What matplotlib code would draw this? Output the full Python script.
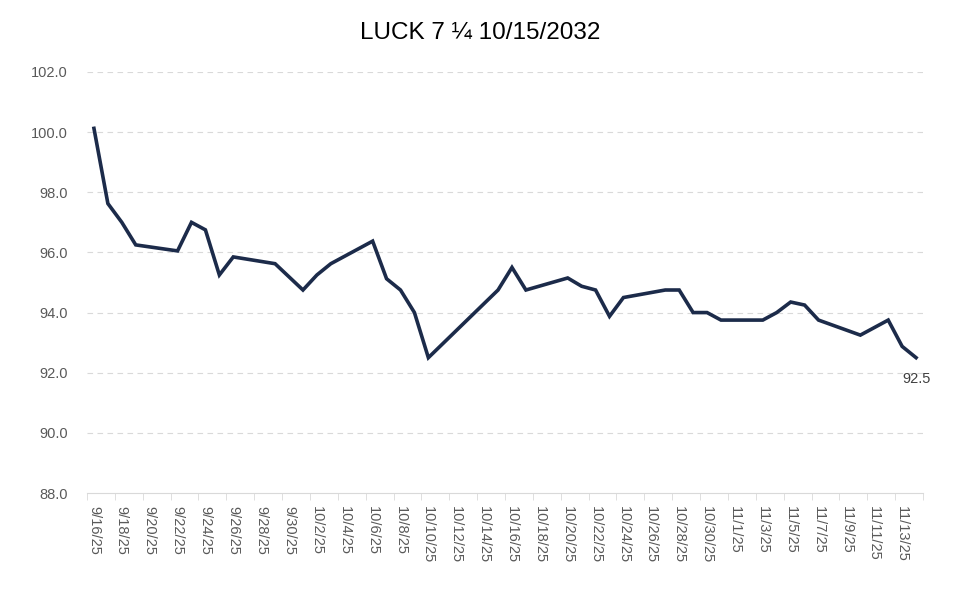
import pandas as pd
import matplotlib.pyplot as plt

plt.rcParams["font.family"] = ["Liberation Sans", "DejaVu Sans"]

# trading days and prices
dates = ["2025-09-16", "2025-09-17", "2025-09-18", "2025-09-19", "2025-09-22",
         "2025-09-23", "2025-09-24", "2025-09-25", "2025-09-26", "2025-09-29",
         "2025-10-01", "2025-10-02", "2025-10-03", "2025-10-06", "2025-10-07",
         "2025-10-08", "2025-10-09", "2025-10-10", "2025-10-14", "2025-10-15",
         "2025-10-16", "2025-10-17", "2025-10-20", "2025-10-21", "2025-10-22",
         "2025-10-23", "2025-10-24", "2025-10-27", "2025-10-28", "2025-10-29",
         "2025-10-30", "2025-10-31", "2025-11-03", "2025-11-04", "2025-11-05",
         "2025-11-06", "2025-11-07", "2025-11-10", "2025-11-12", "2025-11-13",
         "2025-11-14"]
prices = [100.125, 97.625, 97.0, 96.25, 96.05,
          97.0, 96.75, 95.25, 95.85, 95.625,
          94.75, 95.25, 95.625, 96.375, 95.125,
          94.75, 94.0, 92.5, 94.3, 94.75,
          95.5, 94.75, 95.15, 94.875, 94.75,
          93.875, 94.5, 94.75, 94.75, 94.0,
          94.0, 93.75, 93.75, 94.0, 94.35,
          94.25, 93.75, 93.25, 93.75, 92.875,
          92.5]
y_ticks = [88, 90, 92, 94, 96, 98, 100, 102]

start = pd.Timestamp("2025-09-16")
end = pd.Timestamp("2025-11-15")
dt = pd.to_datetime(dates)
x = (dt - start).days + 0.5

label_days = pd.date_range(start, "2025-11-13", freq="2D")
label_pos = (label_days - start).days + 0.5
labels = [f"{d.month}/{d.day}/{d.strftime('%y')}" for d in label_days]
n_days = (end - start).days

fig = plt.figure(figsize=(9.6, 5.9), dpi=100)
ax = fig.add_axes([0.0906, 0.1644, 0.8709, 0.7136])

ax.plot(x, prices, color="#1c2b4a", linewidth=2.6, solid_joinstyle="miter")
ax.annotate(f"{prices[-1]:.1f}", (x[-1], prices[-1]), xytext=(0, -10),
            textcoords="offset points", ha="center", va="top",
            fontsize=10.5, color="#404040")

ax.set_xlim(0, n_days)
ax.set_ylim(88, 102)
ax.set_yticks(y_ticks)
ax.set_yticklabels([f"{v:.1f}" for v in y_ticks], fontsize=10.5, color="#595959")
ax.set_xticks(label_pos)
ax.set_xticklabels(labels, rotation=270, fontsize=10.5, color="#595959")
ax.set_xticks(range(0, n_days + 1, 2), minor=True)
ax.tick_params(axis="x", which="major", length=0, pad=9)
ax.tick_params(axis="x", which="minor", length=5, color="#d9d9d9")
ax.tick_params(axis="y", length=0, pad=14)

for v in y_ticks[1:]:
    ax.axhline(v, color="#d9d9d9", linewidth=0.8, linestyle=(0, (5, 4)), zorder=0)

for side in ["top", "right", "left"]:
    ax.spines[side].set_visible(False)
ax.spines["bottom"].set_color("#d9d9d9")

fig.suptitle("LUCK 7 \u00bc 10/15/2032", fontsize=17.5, y=0.962)

fig.savefig("out.png", dpi=100)
